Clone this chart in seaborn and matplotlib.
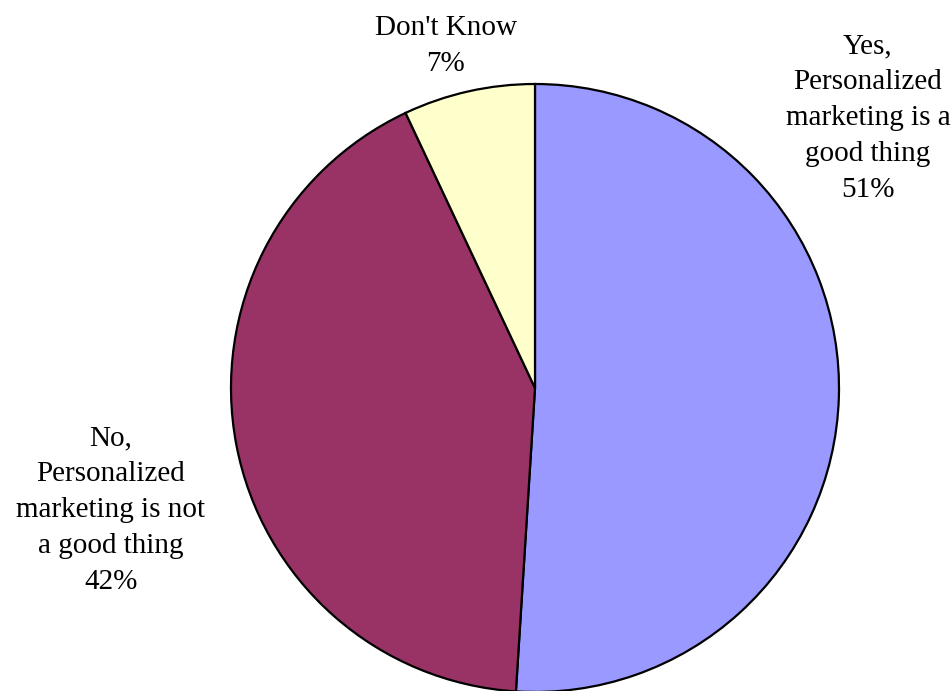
import matplotlib
matplotlib.use("Agg")
import matplotlib.pyplot as plt
import seaborn as sns

labels = ["Yes,\nPersonalized\nmarketing is a\ngood thing",
          "No,\nPersonalized\nmarketing is not\na good thing",
          "Don't Know"]
shares = [51, 42, 7]
colors = ["#9999FF", "#993366", "#FFFFCC"]

sns.set_style("white")
plt.rcParams["font.family"] = ["Liberation Serif", "DejaVu Serif"]

W, H = 951, 691
fig = plt.figure(figsize=(W / 100, H / 100), dpi=100)
ax = fig.add_axes([0, 0, 1, 1])

cx, cy, r = 535, H - 388, 304
ax.pie(shares, colors=sns.color_palette(colors), startangle=90, counterclock=False,
       center=(cx, cy), radius=r,
       wedgeprops=dict(edgecolor="black", linewidth=1.6))
ax.set_xlim(0, W)
ax.set_ylim(0, H)
ax.set_aspect("equal")
ax.axis("off")

# label anchor points (pixel coordinates, measured from the top)
label_pos = [(868, 118), (111, 510), (446, 46)]
for lab, val, (x, y) in zip(labels, shares, label_pos):
    ax.text(x, H - y, f"{lab}\n{val}%", ha="center", va="center",
            fontsize=21, linespacing=1.5, color="black")

fig.savefig("out.png", dpi=100)
